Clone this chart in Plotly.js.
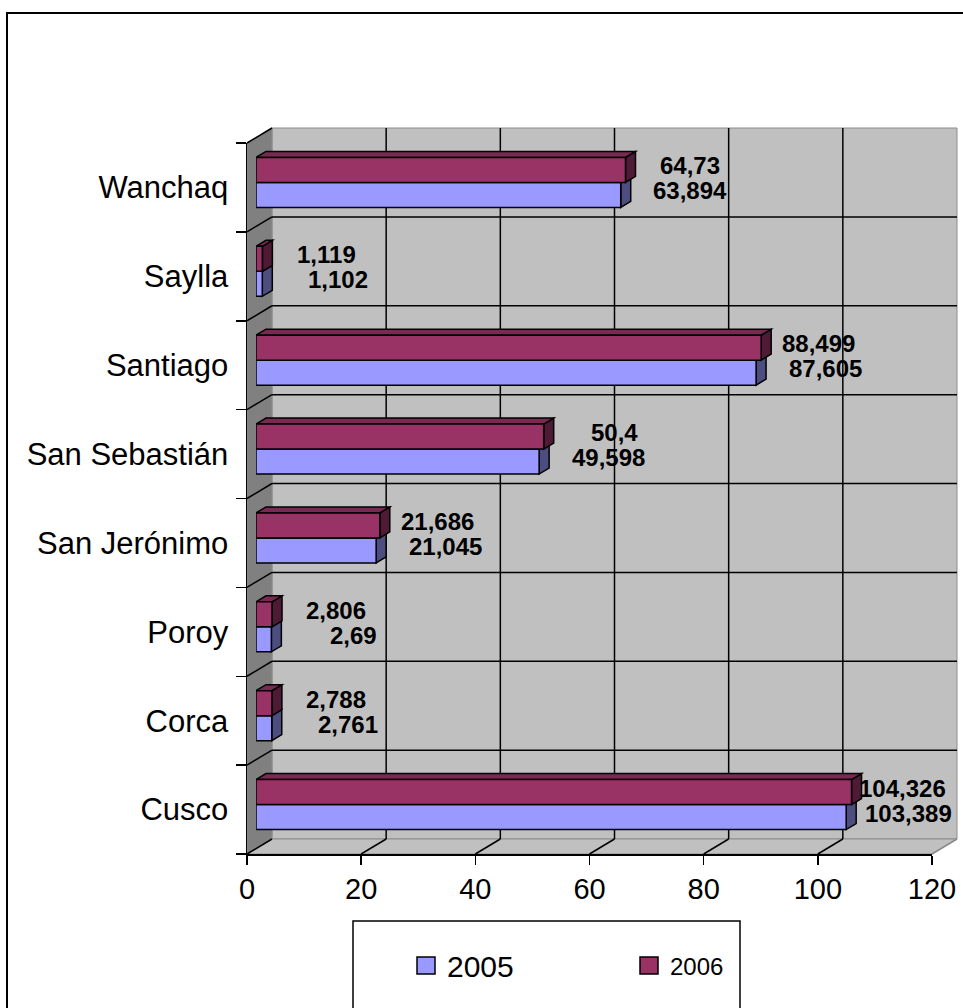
<!DOCTYPE html>
<html>
<head>
<meta charset="utf-8">
<script src="https://cdn.plot.ly/plotly-3.0.1.min.js"></script>
<style>
  html, body { margin: 0; padding: 0; background: #ffffff; }
  #chart { width: 963px; height: 1008px; }
</style>
</head>
<body>
<div id="chart"></div>
<script>
// Population by district (thousands), 2005 and 2006
const districts = ['Cusco', 'Corca', 'Poroy', 'San Jerónimo', 'San Sebastián', 'Santiago', 'Saylla', 'Wanchaq'];
const pop2005 = [103.389, 2.761, 2.69, 21.045, 49.598, 87.605, 1.102, 63.894];
const pop2006 = [104.326, 2.788, 2.806, 21.686, 50.4, 88.499, 1.119, 64.73];
const seriesNames = ['2005', '2006'];
const xTicks = [0, 20, 40, 60, 80, 100, 120];

const W = 963, H = 1008;
const FONT = 'Arial, "Liberation Sans", sans-serif';
const C05 = '#9999ff', C05side = '#4d4d80';
const C06 = '#993366', C06top = '#7a2952', C06side = '#4f1a35';
const WALL = '#c0c0c0', SIDEWALL = '#808080', EDGE = '#8c8c8c';

// 3-D box geometry in pixels: front plane, depth to the back wall,
// offset of the bar plane and the bar thickness
const F = { x0: 247, x1: 932, y0: 143, y1: 854 };
const DEPTH = { dx: 25, dy: 15 };
const BAR = { dx: 9, dy: 5 };
const BARD = { dx: 10, dy: 6 };
const XMAX = 120;
const BARGAP = 0.438;

const n = districts.length;
const idx = districts.map((_, i) => i);
const px = x => x / W;
const py = y => 1 - y / H;
const unitX = (F.x1 - F.x0) / XMAX;      // px per value unit
const unitY = (F.y1 - F.y0) / n;         // px per category
const bw = (1 - BARGAP) / 2;             // one bar, in category units
const ddx = BARD.dx / unitX, ddy = BARD.dy / unitY;

const B = { x0: F.x0 + DEPTH.dx, x1: F.x1 + DEPTH.dx, y0: F.y0 - DEPTH.dy, y1: F.y1 - DEPTH.dy };

const shapes = [];
const poly = (pts, fill, color, width, extra) => Object.assign({
  type: 'path', xref: 'paper', yref: 'paper', layer: 'below',
  path: 'M' + pts.map(p => px(p[0]) + ',' + py(p[1])).join('L') + 'Z',
  fillcolor: fill, line: { color: color, width: width }
}, extra || {});
const seg = (a, b, color, width) => ({
  type: 'line', xref: 'paper', yref: 'paper', layer: 'below',
  x0: px(a[0]), y0: py(a[1]), x1: px(b[0]), y1: py(b[1]),
  line: { color: color, width: width }
});

// chart frame
shapes.push({ type: 'rect', xref: 'paper', yref: 'paper', layer: 'below',
  x0: px(7), y0: py(13), x1: px(W + 10), y1: py(H + 10),
  line: { color: '#000', width: 2 }, fillcolor: 'rgba(0,0,0,0)' });

// walls and floor
shapes.push(poly([[B.x0, B.y0], [B.x1, B.y0], [B.x1, B.y1], [B.x0, B.y1]], WALL, EDGE, 1));
shapes.push(poly([[F.x0, F.y0], [B.x0, B.y0], [B.x0, B.y1], [F.x0, F.y1]], SIDEWALL, EDGE, 1));
shapes.push(poly([[F.x0, F.y1], [B.x0, B.y1], [B.x1, B.y1], [F.x1, F.y1]], WALL, EDGE, 1));

// back-wall grid
xTicks.forEach(t => {
  if (t === 0 || t === XMAX) return;
  const x = B.x0 + t * unitX;
  shapes.push(seg([x, B.y0], [x, B.y1], '#000', 1.5));
});
for (let k = 1; k < n; k++) {
  const y = B.y0 + k * unitY;
  shapes.push(seg([B.x0, y], [B.x1, y], '#000', 1.5));
}
// side-wall and floor grid
for (let k = 0; k < n; k++) {
  const y = F.y0 + k * unitY;
  shapes.push(seg([F.x0, y], [B.x0, y - DEPTH.dy], '#000', 1.5));
}
xTicks.forEach(t => {
  const x = F.x0 + t * unitX;
  shapes.push(seg([x, F.y1], [x + DEPTH.dx, B.y1], t === XMAX ? EDGE : '#000', 1.5));
});

// bar side and top faces, drawn beneath the front faces
const face = (path, fill) => ({
  type: 'path', xref: 'x2', yref: 'y2', layer: 'below', path: path,
  fillcolor: fill, line: { color: '#000', width: 1.5 }
});
const P = pts => 'M' + pts.map(p => p[0] + ',' + p[1]).join('L') + 'Z';
idx.forEach(i => {
  const v = pop2005[i];
  shapes.push(face(P([[v, i - bw], [v, i], [v + ddx, i + ddy], [v + ddx, i - bw + ddy]]), C05side));
});
idx.forEach(i => {
  const v = pop2006[i];
  shapes.push(face(P([[v, i], [v, i + bw], [v + ddx, i + bw + ddy], [v + ddx, i + ddy]]), C06side));
  shapes.push(face(P([[0, i + bw], [v, i + bw], [v + ddx, i + bw + ddy], [ddx, i + bw + ddy]]), C06top));
});

// legend box and keys
const LG = { x0: 353, y0: 921, x1: 740, y1: H + 10 };
shapes.push({ type: 'rect', xref: 'paper', yref: 'paper', layer: 'above',
  x0: px(LG.x0), y0: py(LG.y0), x1: px(LG.x1), y1: py(LG.y1),
  line: { color: '#000', width: 1.5 }, fillcolor: '#fff' });
const keys = [{ x: 417, color: C05, size: 30 }, { x: 640, color: C06, size: 24 }];
keys.forEach(k => shapes.push({ type: 'rect', xref: 'paper', yref: 'paper', layer: 'above',
  x0: px(k.x), y0: py(957), x1: px(k.x + 18), y1: py(974),
  line: { color: '#000', width: 1.5 }, fillcolor: k.color }));

const annotations = [];
seriesNames.forEach((name, s) => annotations.push({
  xref: 'paper', yref: 'paper', x: px(keys[s].x + 28), y: py(966),
  xanchor: 'left', yanchor: 'middle', showarrow: false, text: name,
  font: { family: FONT, size: keys[s].size, color: '#000' }
}));

// value labels
const fmt = v => String(v).replace('.', ',');
const labelFont = { family: FONT, size: 24, color: '#000', weight: 700 };
idx.forEach(i => {
  annotations.push({ xref: 'x2', yref: 'y2', x: pop2006[i], y: i + bw / 2,
    xanchor: 'right', yanchor: 'middle', xshift: 96, yshift: 4,
    showarrow: false, text: fmt(pop2006[i]), font: labelFont });
  annotations.push({ xref: 'x2', yref: 'y2', x: pop2005[i], y: i - bw / 2,
    xanchor: 'right', yanchor: 'middle', xshift: 108, yshift: 4,
    showarrow: false, text: fmt(pop2005[i]), font: labelFont });
});

const barLine = { color: '#000', width: 1.5 };
const traces = [
  { type: 'bar', orientation: 'h', name: seriesNames[0], x: pop2005, y: idx,
    xaxis: 'x2', yaxis: 'y2', marker: { color: C05, line: barLine }, hoverinfo: 'x+name' },
  { type: 'bar', orientation: 'h', name: seriesNames[1], x: pop2006, y: idx,
    xaxis: 'x2', yaxis: 'y2', marker: { color: C06, line: barLine }, hoverinfo: 'x+name' },
  // carries the front axes (ticks and category names); draws nothing
  { type: 'scatter', mode: 'markers', x: pop2005, y: idx, xaxis: 'x', yaxis: 'y',
    marker: { opacity: 0, size: 1 }, hoverinfo: 'skip', showlegend: false }
];

const tickFont = { family: FONT, size: 29, color: '#000' };
const layout = {
  width: W, height: H, autosize: false,
  margin: { l: 0, r: 0, t: 0, b: 0 },
  paper_bgcolor: '#ffffff', plot_bgcolor: 'rgba(0,0,0,0)',
  showlegend: false, barmode: 'group', bargap: BARGAP, bargroupgap: 0,
  xaxis: {
    domain: [px(F.x0), px(F.x1)], range: [0, XMAX], anchor: 'y',
    tickmode: 'array', tickvals: xTicks, ticks: 'outside', ticklen: 9, tickwidth: 1.5,
    tickcolor: '#000', showline: true, linecolor: '#000', linewidth: 1.5,
    showgrid: false, zeroline: false, tickfont: tickFont, fixedrange: true
  },
  yaxis: {
    domain: [py(F.y1), py(F.y0)], range: [-0.5, n - 0.5], anchor: 'x',
    tickmode: 'array', tickvals: idx, ticktext: districts, ticks: '',
    ticklabelstandoff: 11,
    minor: { tick0: -0.5, dtick: 1, ticks: 'outside', ticklen: 10, tickwidth: 1.5, tickcolor: '#000', showgrid: false },
    showline: true, linecolor: '#000', linewidth: 1.5,
    showgrid: false, zeroline: false,
    tickfont: { family: FONT, size: 31, color: '#000' }, fixedrange: true
  },
  xaxis2: {
    domain: [px(F.x0 + BAR.dx), px(F.x1 + BAR.dx)], range: [0, XMAX], anchor: 'y2',
    visible: false, fixedrange: true
  },
  yaxis2: {
    domain: [py(F.y1 - BAR.dy), py(F.y0 - BAR.dy)], range: [-0.5, n - 0.5], anchor: 'x2',
    visible: false, fixedrange: true
  },
  shapes: shapes,
  annotations: annotations
};

Plotly.newPlot('chart', traces, layout, { displayModeBar: false, staticPlot: true });
</script>
</body>
</html>
